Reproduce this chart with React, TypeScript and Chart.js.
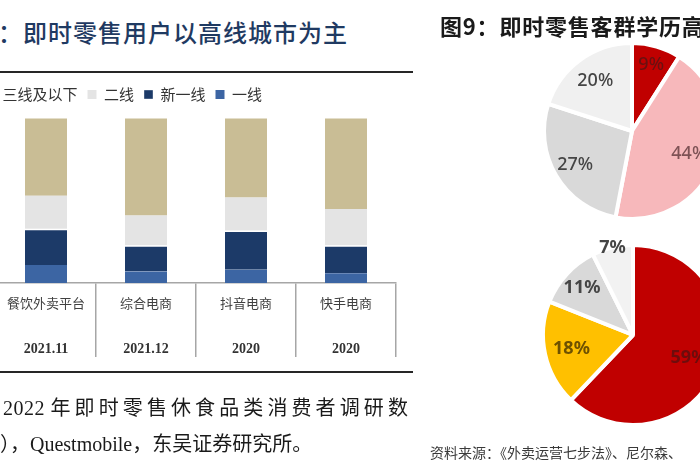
import React, { useEffect, useRef } from "react";
import { Chart, registerables } from "chart.js";

Chart.register(...registerables);

// ---------- data ----------
const categories = ["餐饮外卖平台", "综合电商", "抖音电商", "快手电商"];
const periods = ["2021.11", "2021.12", "2020", "2020"];
const tier1 = [11, 7, 8, 6]; // 一线
const newTier1 = [22, 16, 24, 17]; // 新一线
const tier2 = [20, 18, 20, 22]; // 二线
const tier3 = [47, 59, 48, 55]; // 三线及以下

const pieTopValues = [9, 44, 27, 20];
const pieBottomValues = [59, 18, 11, 7];

// ---------- styles ----------
const CJK = "'Noto Sans CJK SC', sans-serif";
const C_BEIGE = "#c9bd95";
const C_GRAY = "#e4e4e4";
const C_NAVY = "#1c3a68";
const C_BLUE = "#3c65a3";

const pieTopColors = ["#c00000", "#f7b8bb", "#d9d9d9", "#f0f0f0"];
const pieTopTextColors = ["#6a1010", "#7e5255", "#454545", "#454545"];
const pieTopLabelRadius = [0.78, 0.7, 0.75, 0.71];

const pieBottomColors = ["#c00000", "#ffc000", "#d9d9d9", "#f2f2f2"];
const pieBottomTextColors = ["#6e0c0c", "#6e5100", "#454545", "#454545"];
const pieBottomLabelRadius = [0.67, 0.7, 0.77, 0.99];

const sliceLabelPlugin = {
  id: "sliceLabels",
  afterDatasetsDraw(chart: any, _args: any, opts: any) {
    const { ctx } = chart;
    const meta = chart.getDatasetMeta(0);
    const ds = chart.data.datasets[0];
    meta.data.forEach((arc: any, i: number) => {
      const p = arc.getProps(["x", "y", "startAngle", "endAngle", "outerRadius"], true);
      const a = (p.startAngle + p.endAngle) / 2;
      const r = p.outerRadius * opts.radii[i];
      ctx.save();
      ctx.font = opts.font;
      ctx.fillStyle = opts.colors[i];
      ctx.textAlign = "center";
      ctx.textBaseline = "middle";
      ctx.fillText(`${ds.data[i]}%`, p.x + Math.cos(a) * r, p.y + Math.sin(a) * r);
      ctx.restore();
    });
  },
};

export default function App() {
  const barRef = useRef<HTMLCanvasElement>(null);
  const pie1Ref = useRef<HTMLCanvasElement>(null);
  const pie2Ref = useRef<HTMLCanvasElement>(null);

  useEffect(() => {
    const charts: Chart[] = [];
    if (barRef.current) {
      charts.push(
        new Chart(barRef.current, {
          type: "bar",
          data: {
            labels: categories,
            datasets: [
              { label: "一线", data: tier1, backgroundColor: C_BLUE },
              {
                label: "新一线",
                data: newTier1,
                backgroundColor: C_NAVY,
                borderColor: "#ffffff",
                borderWidth: { top: 1.5, left: 0, right: 0, bottom: 0 },
              },
              { label: "二线", data: tier2, backgroundColor: C_GRAY },
              { label: "三线及以下", data: tier3, backgroundColor: C_BEIGE },
            ],
          },
          options: {
            responsive: false,
            animation: false,
            layout: { padding: { left: 0, right: 4, top: 0, bottom: 0 } },
            datasets: { bar: { categoryPercentage: 1, barPercentage: 0.42 } },
            plugins: {
              legend: {
                position: "top",
                align: "start",
                reverse: true,
                labels: {
                  boxWidth: 9,
                  boxHeight: 9,
                  padding: 10,
                  color: "#333333",
                  font: { family: CJK, size: 15 },
                },
              },
              tooltip: { enabled: false },
            },
            scales: {
              x: {
                stacked: true,
                offset: true,
                grid: {
                  offset: true,
                  drawOnChartArea: false,
                  drawTicks: true,
                  tickLength: 74,
                  color: "#a6a6a6",
                  lineWidth: 1.5,
                },
                border: { display: true, color: "#a6a6a6", width: 1.5 },
                ticks: {
                  padding: -62,
                  maxRotation: 0,
                  autoSkip: false,
                  color: "#404040",
                  font: { family: CJK, size: 13, lineHeight: 1.2 },
                },
                afterFit: (s: any) => {
                  s.height = 46;
                },
              },
              x2: {
                type: "category",
                labels: periods,
                position: "bottom",
                offset: true,
                grid: { display: false, drawTicks: false },
                border: { display: false },
                ticks: {
                  padding: 12,
                  maxRotation: 0,
                  autoSkip: false,
                  color: "#333333",
                  font: { family: "'Liberation Serif', serif", size: 14, weight: "bold", lineHeight: 1.2 },
                },
                afterFit: (s: any) => {
                  s.height = 43;
                },
              },
              y: {
                stacked: true,
                min: 0,
                max: 104,
                grid: { display: false, drawTicks: false },
                border: { display: false },
                ticks: { display: false },
                afterFit: (s: any) => {
                  s.width = 20;
                },
              },
            },
          },
        } as any)
      );
    }
    const makePie = (
      el: HTMLCanvasElement,
      values: number[],
      colors: string[],
      textColors: string[],
      radii: number[],
      radius: number,
      font: string
    ) =>
      new Chart(el, {
        type: "pie",
        data: {
          labels: values.map((v) => `${v}%`),
          datasets: [
            {
              data: values,
              backgroundColor: colors,
              borderColor: "#ffffff",
              borderWidth: 4,
              radius,
            },
          ],
        },
        options: {
          responsive: false,
          animation: false,
          layout: { padding: 0 },
          plugins: {
            legend: { display: false },
            tooltip: { enabled: false },
            sliceLabels: { colors: textColors, radii, font },
          },
        },
        plugins: [sliceLabelPlugin],
      } as any);
    if (pie1Ref.current) {
      charts.push(
        makePie(pie1Ref.current, pieTopValues, pieTopColors, pieTopTextColors, pieTopLabelRadius, 88, "500 18px 'Noto Sans', sans-serif")
      );
    }
    if (pie2Ref.current) {
      charts.push(
        makePie(pie2Ref.current, pieBottomValues, pieBottomColors, pieBottomTextColors, pieBottomLabelRadius, 90, "bold 18px 'Noto Sans', sans-serif")
      );
    }
    return () => charts.forEach((c) => c.destroy());
  }, []);

  const abs = (o: React.CSSProperties): React.CSSProperties => ({ position: "absolute", ...o });

  return (
    <div
      style={{
        position: "fixed",
        left: 0,
        top: 0,
        width: 700,
        height: 470,
        overflow: "hidden",
        background: "#ffffff",
      }}
    >
      <canvas ref={barRef} width={424} height={295} style={abs({ left: -24, top: 77, width: 424, height: 295 })} />
      <canvas ref={pie1Ref} width={220} height={220} style={abs({ left: 522, top: 21, width: 220, height: 220 })} />
      <canvas ref={pie2Ref} width={220} height={220} style={abs({ left: 523, top: 225, width: 220, height: 220 })} />

      <div
        style={abs({
          left: -2,
          top: 19,
          fontFamily: CJK,
          fontSize: 24,
          lineHeight: "26px",
          fontWeight: 500,
          letterSpacing: 1,
          color: "#1f3a62",
          whiteSpace: "nowrap",
        })}
      >
        ：即时零售用户以高线城市为主
      </div>
      <div style={abs({ left: 0, top: 71, width: 413, height: 2, background: "#262626" })} />
      <div style={abs({ left: 0, top: 371, width: 413, height: 2, background: "#262626" })} />

      <div
        style={abs({
          left: 3,
          top: 395,
          fontSize: 20,
          lineHeight: "24px",
          color: "#1a1a1a",
          whiteSpace: "nowrap",
        })}
      >
        <span style={{ fontFamily: "'Liberation Serif', serif", letterSpacing: 0.5 }}>2022 </span>
        <span style={{ fontFamily: CJK, letterSpacing: 4.1 }}>年即时零售休食品类消费者调研数</span>
      </div>
      <div
        style={abs({
          left: 0,
          top: 431,
          fontSize: 20,
          lineHeight: "24px",
          color: "#1a1a1a",
          whiteSpace: "nowrap",
          fontFamily: `'Liberation Serif', ${CJK}`,
        })}
      >
        <span style={{ fontFamily: CJK }}>），</span>
        <span>Questmobile</span>
        <span style={{ fontFamily: CJK }}>，东吴证券研究所。</span>
      </div>

      <div
        style={abs({
          left: 440,
          top: 12,
          fontFamily: CJK,
          fontSize: 22,
          lineHeight: "26px",
          fontWeight: 700,
          letterSpacing: 0.8,
          color: "#1a1a1a",
          whiteSpace: "nowrap",
        })}
      >
        图9：即时零售客群学历高
      </div>
      <div
        style={abs({
          left: 430,
          top: 443,
          fontFamily: CJK,
          fontSize: 14,
          lineHeight: "18px",
          color: "#3a3a3a",
          whiteSpace: "nowrap",
        })}
      >
        资料来源：《外卖运营七步法》、尼尔森、
      </div>
    </div>
  );
}
